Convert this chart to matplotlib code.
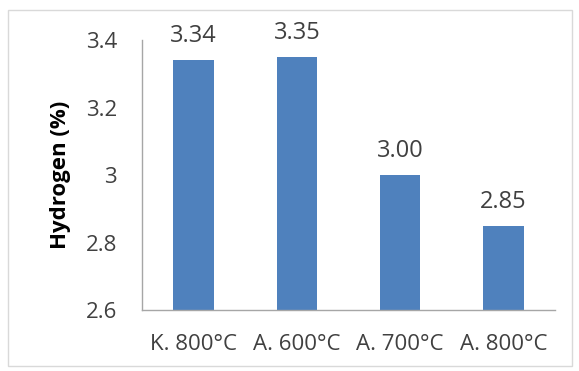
import matplotlib.pyplot as plt
from matplotlib.patches import Rectangle

categories = ["K. 800°C", "A. 600°C", "A. 700°C", "A. 800°C"]
values = [3.34, 3.35, 3.00, 2.85]
labels = ["3.34", "3.35", "3.00", "2.85"]
yticks = [2.6, 2.8, 3.0, 3.2, 3.4]
yticklabels = ["2.6", "2.8", "3", "3.2", "3.4"]

plt.rcParams['font.family'] = ['Open Sans', 'DejaVu Sans']

fig = plt.figure(figsize=(5.79, 3.71), dpi=100)
fig.patch.set_facecolor('white')
fig.add_artist(Rectangle((8/579, 1 - 366/371), 564/579, 356/371, transform=fig.transFigure,
                         fill=False, edgecolor='#D9D9D9', linewidth=1))

ax = fig.add_axes([142/579, 1 - 310/371, 413/579, 270/371])
x = list(range(len(categories)))
bars = ax.bar(x, values, width=0.39, color='#4F81BD')
ax.set_ylim(2.6, 3.4)
ax.set_xlim(-0.5, len(categories) - 0.5)
ax.set_yticks(yticks)
ax.set_yticklabels(yticklabels, fontsize=16, color='#404040')
ax.set_xticks(x)
ax.set_xticklabels(categories, fontsize=16, color='#404040')
ax.tick_params(axis='both', length=0)
ax.tick_params(axis='y', pad=18)
ax.tick_params(axis='x', pad=17)
for s in ['top', 'right']:
    ax.spines[s].set_visible(False)
for s in ['left', 'bottom']:
    ax.spines[s].set_color('#A6A6A6')
    ax.spines[s].set_linewidth(1)

for xi, v, lab in zip(x, values, labels):
    ax.annotate(lab, (xi, v), xytext=(0, 13), textcoords='offset points',
                ha='center', va='baseline', fontsize=17, color='#404040', annotation_clip=False)

ax.set_ylabel("Hydrogen (%)", fontsize=16, fontweight='bold', color='black')
ax.yaxis.set_label_coords(-0.172, 0.5)

fig.savefig('out.png', dpi=100)
